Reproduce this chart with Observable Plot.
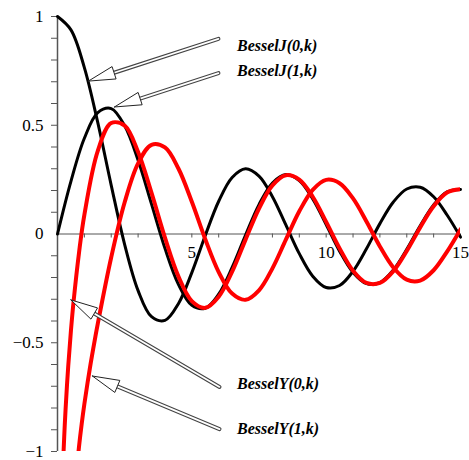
<!DOCTYPE html>
<html>
<head>
<meta charset="utf-8">
<script src="https://cdn.jsdelivr.net/npm/d3@7"></script>
<script src="https://cdn.jsdelivr.net/npm/@observablehq/plot@0.6"></script>
<style>
  html, body { margin: 0; padding: 0; background: #fff; }
  #chart svg { display: block; }
</style>
</head>
<body>
<div id="chart"></div>
<script>
// ---- data ----
const xJ = [0,0.5,1,1.5,2,2.5,3,3.5,4,4.5,5,5.5,6,6.5,7,7.5,8,8.5,9,9.5,10,10.5,11,11.5,12,12.5,13,13.5,14,14.5,15];
const besselJ0 = [1.0000,0.9385,0.7652,0.5118,0.2239,-0.0484,-0.2601,-0.3801,-0.3971,-0.3205,-0.1776,-0.0068,0.1506,0.2601,0.3001,0.2663,0.1717,0.0419,-0.0903,-0.1939,-0.2459,-0.2366,-0.1712,-0.0677,0.0477,0.1469,0.2069,0.2150,0.1711,0.0875,-0.0142];
const besselJ1 = [0,0.2423,0.4401,0.5579,0.5767,0.4971,0.3391,0.1374,-0.0660,-0.2311,-0.3276,-0.3414,-0.2767,-0.1538,-0.0047,0.1352,0.2346,0.2731,0.2453,0.1613,0.0435,-0.0789,-0.1768,-0.2284,-0.2234,-0.1655,-0.0703,0.0380,0.1334,0.1934,0.2051];

const xY0 = [0.2,0.25,0.3,0.4,0.5,0.6,0.8,1,1.5,2,2.5,3,3.5,4,4.5,5,5.5,6,6.5,7,7.5,8,8.5,9,9.5,10,10.5,11,11.5,12,12.5,13,13.5,14,14.5,15];
const besselY0 = [-1.0811,-0.9316,-0.8073,-0.6060,-0.4445,-0.3085,-0.0868,0.0883,0.3824,0.5104,0.4981,0.3769,0.1890,-0.0169,-0.1947,-0.3085,-0.3395,-0.2882,-0.1732,-0.0259,0.1173,0.2235,0.2702,0.2499,0.1712,0.0557,-0.0660,-0.1688,-0.2252,-0.2252,-0.1712,-0.0782,0.0301,0.1272,0.1903,0.2055];

const xY1 = [0.7,0.8,0.9,1,1.2,1.4,1.5,2,2.5,3,3.5,4,4.5,5,5.5,6,6.5,7,7.5,8,8.5,9,9.5,10,10.5,11,11.5,12,12.5,13,13.5,14,14.5,15];
const besselY1 = [-1.1032,-0.9781,-0.8731,-0.7812,-0.6211,-0.4791,-0.4123,-0.1070,0.1459,0.3247,0.4102,0.3979,0.3010,0.1479,-0.0238,-0.1750,-0.2741,-0.3027,-0.2591,-0.1581,-0.0262,0.1043,0.2032,0.2490,0.2337,0.1637,0.0579,-0.0571,-0.1538,-0.2101,-0.2140,-0.1666,-0.0810,0.0211];

const xMinorTicks = [1,2,3,4,5,6,7,8,9,10,11,12,13,14,15];
const xLabelTicks = [5,10,15];
const yMinorTicks = [-1,-0.9,-0.8,-0.7,-0.6,-0.5,-0.4,-0.3,-0.2,-0.1,0.1,0.2,0.3,0.4,0.5,0.6,0.7,0.8,0.9,1];
const yLabelTicks = [-1,-0.5,0,0.5,1];

// annotation labels and arrows (data coordinates)
const annLabels = ["BesselJ(0,k)","BesselJ(1,k)","BesselY(0,k)","BesselY(1,k)"];
const annLabelX = [6.68,6.68,6.68,6.68];
const annLabelY = [0.864,0.749,-0.690,-0.897];
const arrowTipX = [1.15,2.12,0.50,1.30];
const arrowTipY = [0.703,0.584,-0.303,-0.653];
const arrowTailX = [5.99,5.99,6.03,6.03];
const arrowTailY = [0.897,0.740,-0.703,-0.897];

// ---- layout ----
const W = 469, H = 460, ML = 57, MR = 9, MT = 16, MB = 9;
const XD = [0, 15], YD = [-1, 1];
const kx = (W - ML - MR) / (XD[1] - XD[0]);
const ky = (H - MT - MB) / (YD[1] - YD[0]);

const toRows = (xs, ys) => xs.map((x, i) => ({x, y: ys[i]}));
const J0 = toRows(xJ, besselJ0), J1 = toRows(xJ, besselJ1);
const Y0 = toRows(xY0, besselY0), Y1 = toRows(xY1, besselY1);

// arrow heads (hollow triangles) and shafts
const headLen = 27, headHalf = 6.5;
const tris = [], shafts = [];
annLabels.forEach((_, i) => {
  const tx = arrowTipX[i], ty = arrowTipY[i], sx = arrowTailX[i], sy = arrowTailY[i];
  const dx = (sx - tx) * kx, dy = -(sy - ty) * ky;
  const len = Math.hypot(dx, dy), ux = dx / len, uy = dy / len;
  const bx = ux * headLen, by = uy * headLen;
  const nx = -uy, ny = ux;
  const pts = [[0, 0], [bx + nx * headHalf, by + ny * headHalf], [bx - nx * headHalf, by - ny * headHalf], [0, 0]];
  pts.forEach(([px, py]) => tris.push({id: i, x: tx + px / kx, y: ty - py / ky}));
  shafts.push({x1: tx + bx / kx, y1: ty - by / ky, x2: sx, y2: sy});
});

const FONT = "'Liberation Serif', 'DejaVu Serif', serif";

const plot = Plot.plot({
  width: W, height: H,
  marginLeft: ML, marginRight: MR, marginTop: MT, marginBottom: MB,
  x: {domain: XD, axis: null},
  y: {domain: YD, axis: null},
  style: {background: "#fff", fontFamily: FONT, overflow: "visible"},
  marks: [
    // axes
    Plot.ruleY([0], {stroke: "#555", strokeWidth: 1}),
    Plot.ruleX([0], {stroke: "#555", strokeWidth: 1.5}),
    Plot.ruleX(xMinorTicks, {x: d => d, y1: 0, y2: -4 / ky, stroke: "#555"}),
    Plot.ruleY(yMinorTicks, {y: d => d, x1: 0, x2: -6 / kx, stroke: "#555"}),
    Plot.text(xLabelTicks, {x: d => d, y: 0, dy: 19, text: d => String(d), fontSize: 17, fill: "#000"}),
    Plot.text(yLabelTicks, {x: 0, y: d => d, dx: -14, textAnchor: "end", text: d => d3.format("")(d).replace("-", "\u2212"), fontSize: 17, fill: "#000"}),
    // curves
    Plot.line(J0, {x: "x", y: "y", stroke: "#000", strokeWidth: 3, curve: "catmull-rom"}),
    Plot.line(J1, {x: "x", y: "y", stroke: "#000", strokeWidth: 3, curve: "catmull-rom"}),
    Plot.line(Y0, {x: "x", y: "y", stroke: "#ff0000", strokeWidth: 4, curve: "catmull-rom", clip: true}),
    Plot.line(Y1, {x: "x", y: "y", stroke: "#ff0000", strokeWidth: 4, curve: "catmull-rom", clip: true}),
    // arrows
    Plot.link(shafts, {x1: "x1", y1: "y1", x2: "x2", y2: "y2", stroke: "#444", strokeWidth: 4, strokeLinecap: "round"}),
    Plot.link(shafts, {x1: "x1", y1: "y1", x2: "x2", y2: "y2", stroke: "#fff", strokeWidth: 1.8, strokeLinecap: "round"}),
    Plot.line(tris, {x: "x", y: "y", z: "id", fill: "#fff", stroke: "#222", strokeWidth: 1, curve: "linear-closed"}),
    // labels
    Plot.text(annLabels, {x: (d, i) => annLabelX[i], y: (d, i) => annLabelY[i], text: d => d, textAnchor: "start", fontStyle: "italic", fontWeight: "bold", fontSize: 16, fill: "#000"})
  ]
});
document.getElementById("chart").appendChild(plot);
</script>
</body>
</html>
